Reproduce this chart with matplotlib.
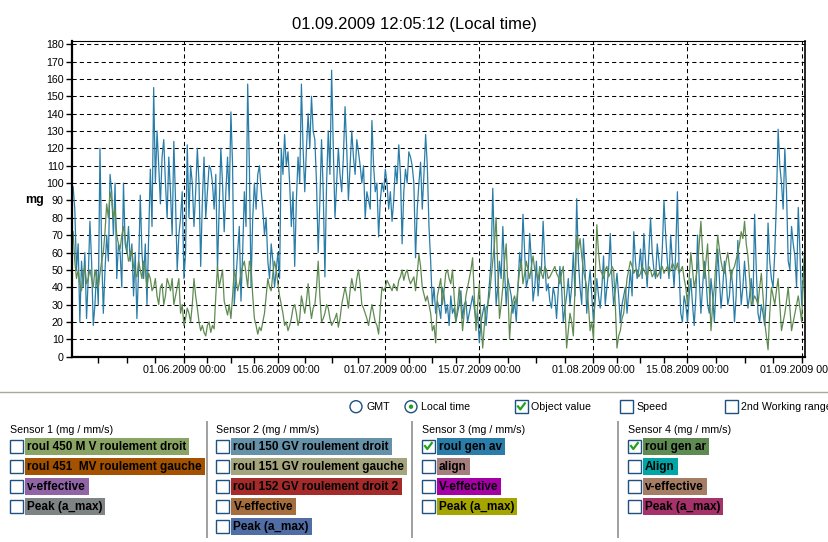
import pandas as pd
import matplotlib
matplotlib.use("Agg")
import matplotlib.pyplot as plt
import matplotlib.dates as mdates
from matplotlib.patches import Rectangle, Circle

plt.rcParams['font.family'] = ['Liberation Sans', 'DejaVu Sans']

# sensor 3 / sensor 4 readings (mg), one value every 6 h from 15.05.2009 12:00
gen_av = [98, 85, 50, 65, 20, 55, 40, 60, 22, 45,
          78, 55, 18, 30, 50, 30, 120, 60, 25, 50,
          70, 55, 105, 95, 70, 100, 45, 65, 60, 40,
          100, 65, 60, 75, 55, 65, 35, 60, 22, 50,
          93, 60, 45, 65, 30, 70, 108, 75, 155, 100,
          130, 110, 88, 115, 125, 100, 80, 115, 95, 70,
          124, 90, 50, 70, 80, 95, 45, 60, 122, 80,
          110, 100, 75, 95, 120, 100, 52, 90, 115, 80,
          95, 110, 108, 100, 85, 105, 50, 85, 120, 100,
          72, 95, 115, 90, 141, 110, 30, 45, 60, 75,
          32, 60, 95, 75, 157, 110, 40, 80, 100, 85,
          105, 110, 96, 85, 70, 80, 55, 45, 65, 55,
          40, 50, 60, 45, 120, 105, 128, 110, 118, 100,
          75, 95, 52, 90, 115, 100, 157, 120, 95, 120,
          140, 120, 150, 130, 125, 100, 60, 90, 125, 95,
          46, 100, 130, 105, 165, 120, 80, 100, 120, 105,
          95, 115, 144, 120, 90, 110, 130, 115, 105, 125,
          118, 110, 100, 110, 80, 95, 90, 85, 136, 110,
          95, 100, 69, 90, 100, 95, 108, 100, 85, 95,
          78, 90, 110, 100, 122, 105, 65, 95, 108, 100,
          118, 115, 110, 100, 57, 85, 100, 112, 85, 105,
          128, 110, 75, 55, 30, 40, 25, 32, 28, 22,
          40, 35, 25, 30, 18, 35, 25, 28, 20, 25,
          30, 38, 22, 30, 32, 20, 25, 30, 35, 28,
          20, 25, 8, 20, 25, 30, 18, 30, 42, 55,
          97, 60, 30, 40, 55, 45, 75, 50, 30, 45,
          40, 35, 25, 32, 20, 40, 60, 50, 82, 60,
          40, 45, 71, 55, 32, 40, 55, 35, 48, 50,
          78, 55, 38, 42, 32, 28, 40, 35, 22, 38,
          52, 40, 20, 28, 35, 45, 30, 40, 60, 35,
          91, 55, 40, 30, 68, 50, 25, 40, 50, 35,
          20, 32, 45, 35, 28, 40, 58, 30, 40, 50,
          71, 45, 30, 38, 48, 35, 20, 30, 35, 40,
          25, 38, 50, 35, 72, 55, 45, 50, 62, 45,
          71, 55, 40, 60, 80, 60, 50, 45, 65, 55,
          45, 62, 90, 70, 55, 45, 70, 55, 40, 60,
          95, 50, 25, 20, 35, 30, 20, 35, 45, 30,
          18, 35, 70, 45, 25, 40, 55, 45, 30, 25,
          45, 35, 20, 40, 62, 45, 28, 40, 55, 45,
          30, 35, 50, 40, 20, 35, 67, 50, 30, 40,
          55, 40, 28, 35, 45, 30, 82, 50, 25, 20,
          30, 25, 18, 35, 77, 55, 45, 40, 60, 90,
          131, 110, 100, 85, 120, 95, 55, 50, 75, 65,
          58, 40, 86, 60, 30, 45, 62]
gen_ar = [72, 55, 45, 50, 42, 38, 48, 52, 42, 45,
          50, 45, 40, 50, 45, 40, 48, 55, 60, 72,
          88, 80, 95, 90, 80, 85, 70, 65, 62, 70,
          75, 68, 62, 55, 58, 62, 52, 48, 46, 55,
          50, 45, 55, 50, 40, 48, 45, 38, 40, 45,
          35, 30, 40, 42, 30, 35, 45, 42, 38, 45,
          30, 35, 40, 45, 25, 30, 18, 22, 28, 25,
          20, 30, 45, 35, 28, 20, 15, 18, 14, 12,
          18, 20, 14, 18, 16, 35, 52, 40, 45, 50,
          32, 28, 24, 30, 22, 35, 50, 45, 38, 42,
          48, 52, 55, 48, 40, 55, 52, 35, 22, 18,
          13, 17, 15, 20, 25, 35, 45, 40, 38, 48,
          55, 50, 42, 35, 30, 25, 18, 20, 15, 18,
          22, 28, 30, 25, 18, 22, 35, 30, 25, 32,
          42, 30, 22, 28, 30, 40, 55, 35, 20, 22,
          25, 30, 28, 22, 18, 20, 22, 25, 17, 22,
          30, 35, 40, 35, 28, 38, 45, 40, 38, 45,
          50, 42, 30, 28, 25, 22, 18, 24, 30, 25,
          20, 18, 13, 28, 40, 38, 40, 44, 42, 40,
          38, 42, 40, 38, 44, 46, 50, 44, 48, 50,
          45, 42, 44, 46, 38, 48, 59, 52, 40, 36,
          32, 35, 30, 25, 15, 18, 8, 35, 40, 45,
          30, 38, 48, 50, 45, 42, 50, 35, 20, 28,
          40, 30, 15, 25, 35, 40, 45, 50, 57, 35,
          15, 30, 42, 20, 5, 18, 28, 30, 35, 45,
          55, 65, 80, 50, 22, 30, 40, 55, 65, 40,
          10, 25, 32, 35, 30, 40, 50, 55, 42, 48,
          55, 50, 45, 52, 58, 50, 48, 44, 52, 48,
          45, 52, 50, 45, 46, 48, 50, 52, 48, 46,
          42, 48, 52, 30, 5, 15, 25, 20, 12, 40,
          70, 62, 68, 58, 50, 45, 40, 30, 15, 20,
          10, 45, 76, 60, 50, 48, 45, 50, 52, 46,
          48, 52, 50, 30, 5, 12, 15, 22, 25, 35,
          45, 50, 55, 52, 48, 50, 50, 46, 48, 52,
          50, 48, 46, 52, 50, 46, 48, 50, 46, 48,
          50, 52, 48, 50, 52, 48, 50, 54, 52, 50,
          54, 48, 50, 52, 45, 40, 30, 45, 60, 50,
          40, 45, 52, 65, 78, 60, 45, 55, 65, 40,
          15, 30, 40, 55, 70, 62, 55, 50, 48, 55,
          60, 52, 45, 50, 52, 56, 60, 65, 72, 68,
          78, 65, 58, 45, 30, 32, 35, 33, 30, 40,
          48, 35, 20, 12, 4, 25, 40, 35, 30, 38,
          45, 30, 15, 20, 25, 32, 40, 28, 15, 20,
          25, 30, 35, 28, 20, 45, 66]
times_av = pd.date_range('2009-05-15 12:00', periods=len(gen_av), freq='6h')
times_ar = pd.date_range('2009-05-15 12:00', periods=len(gen_ar), freq='6h')

title = '01.09.2009 12:05:12 (Local time)'
x_start = pd.Timestamp('2009-05-15 08:00')
x_end = pd.Timestamp('2009-09-01 12:05')
major_dates = pd.to_datetime(['2009-05-15', '2009-06-01', '2009-06-15', '2009-07-01',
                              '2009-07-15', '2009-08-01', '2009-08-15', '2009-09-01'])
y_ticks = list(range(0, 181, 10))

col_av = '#2a7da8'
col_ar = '#5f8b53'

# (kind, text, selected, x of the control)
options = [('radio', 'GMT', False, 356),
           ('radio', 'Local time', True, 411),
           ('check', 'Object value', True, 515),
           ('check', 'Speed', False, 620),
           ('check', '2nd Working range', False, 725)]

sensor_names = ['Sensor 1 (mg / mm/s)', 'Sensor 2 (mg / mm/s)',
                'Sensor 3 (mg / mm/s)', 'Sensor 4 (mg / mm/s)']
sensor_x = [10, 216.5, 422, 628]
sensor_items = [
    [('roul 450 M V roulement droit', '#8aa563', False),
     ('roul 451  MV roulement gauche', '#a55200', False),
     ('v-effective', '#9164a6', False),
     ('Peak (a_max)', '#7e8383', False)],
    [('roul 150 GV roulement droit', '#6592a8', False),
     ('roul 151 GV roulement gauche', '#a5a57d', False),
     ('roul 152 GV roulement droit 2', '#a52a2a', False),
     ('V-effective', '#a56e3c', False),
     ('Peak (a_max)', '#506ea5', False)],
    [('roul gen av', col_av, True),
     ('align', '#a57d7d', False),
     ('V-effective', '#a500a5', False),
     ('Peak (a_max)', '#a5a500', False)],
    [('roul gen ar', col_ar, True),
     ('Align', '#00a5a5', False),
     ('v-effective', '#a57d64', False),
     ('Peak (a_max)', '#a53269', False)],
]
separators = [207, 412.5, 618]

W, H = 829, 542
fig = plt.figure(figsize=(W / 100, H / 100), dpi=100, facecolor='white')

# ---- chart
ax = fig.add_axes([72 / W, 1 - 356.7 / H, 733 / W, 316 / H])
ax.plot(times_av, gen_av, color=col_av, lw=0.9)
ax.plot(times_ar, gen_ar, color=col_ar, lw=0.9)
ax.set_xlim(x_start, x_end)
ax.set_ylim(0, 182)
ax.set_yticks(y_ticks)
ax.xaxis.set_major_locator(mdates.DayLocator(bymonthday=[1, 15]))
ax.xaxis.set_major_formatter(mdates.DateFormatter('%d.%m.%Y %H:%M'))
minor = [a + (b - a) * q / 4 for a, b in zip(major_dates[:-1], major_dates[1:]) for q in (1, 2, 3)]
ax.set_xticks(minor, minor=True)
ax.tick_params(which='both', direction='out', length=4, width=1, labelsize=7.7, pad=2)
ax.grid(True, which='major', color='black', linestyle=(0, (4, 3)), linewidth=0.75)
ax.spines['left'].set_linewidth(1.6)
ax.spines['bottom'].set_linewidth(1.6)
ax.spines['top'].set_linewidth(0.8)
ax.spines['right'].set_linewidth(1.2)

fig.text(0.5, 1 - 25 / H, title, ha='center', va='center', fontsize=12)
fig.text(35 / W, 1 - 200 / H, 'mg', ha='center', va='center', fontsize=9, fontweight='bold')

# ---- control panel, in pixel coordinates
ui = fig.add_axes([0, 0, 1, 1], zorder=-1)
ui.set_xlim(0, W)
ui.set_ylim(H, 0)
ui.axis('off')

ui.plot([0, W], [392.3, 392.3], color='#a8a89c', lw=1)
for sx in separators:
    ui.plot([sx, sx], [422, 537], color='#a0a0a0', lw=1.4)


def checkbox(x, y, checked):
    ui.add_patch(Rectangle((x, y - 6.3), 12.6, 12.6, fc='white', ec='#1c5180', lw=1))
    if checked:
        ui.plot([x + 3, x + 5.3, x + 9.8], [y - 0.3, y + 2.7, y - 3.3], color='#21a121', lw=1.6)


row0 = 406.7
for kind, text, sel, x in options:
    if kind == 'radio':
        ui.add_patch(Circle((x, row0), 6, fc='white', ec='#1c5180', lw=1))
        if sel:
            ui.add_patch(Circle((x, row0), 2.2, fc='#21a121', ec='none'))
        ui.text(x + 10.5, row0, text, ha='left', va='center', fontsize=7.7)
    else:
        checkbox(x, row0, sel)
        ui.text(x + 16.5, row0, text, ha='left', va='center', fontsize=7.7)

renderer = fig.canvas.get_renderer()
right_limits = separators + [W]
for name, x0, items, xr in zip(sensor_names, sensor_x, sensor_items, right_limits):
    clip = Rectangle((x0 - 5, 415), xr - x0 + 3, 127, transform=ui.transData)
    ui.text(x0, 430, name, ha='left', va='center', fontsize=7.7)
    for i, (label, color, sel) in enumerate(items):
        y = 446.3 + 20 * i
        checkbox(x0, y, sel)
        t = ui.text(x0 + 17, y + 0.5, label, ha='left', va='center', fontsize=8.5,
                    fontweight='bold', color='black', zorder=3)
        t.set_clip_path(clip)
        bb = t.get_window_extent(renderer)
        r = Rectangle((x0 + 15, y - 8.5), bb.width + 5, 17, fc=color, ec='none', zorder=2)
        ui.add_patch(r)
        r.set_clip_path(clip)

fig.savefig('out.png', dpi=100, facecolor='white')
